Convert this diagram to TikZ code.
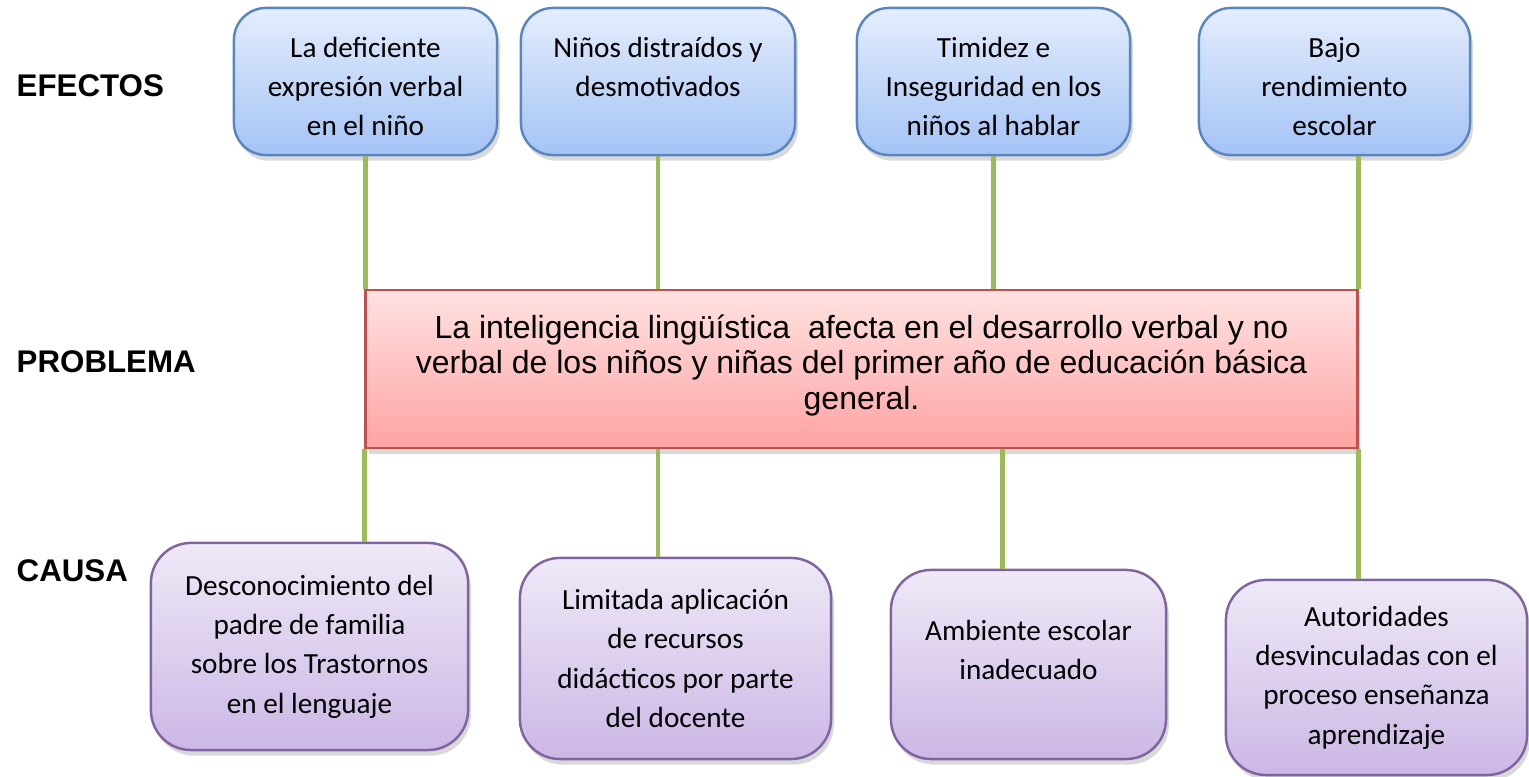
\documentclass[tikz,border=0pt]{standalone}
\usepackage{fontspec}
\setmainfont{Carlito}
\newfontfamily\arialfont{Liberation Sans}
\usetikzlibrary{shadows}

\definecolor{efTop}{HTML}{E4EDFC}
\definecolor{efBot}{HTML}{A4C3F5}
\definecolor{efLine}{HTML}{5A86BF}
\definecolor{prTop}{HTML}{FFE2E2}
\definecolor{prBot}{HTML}{FFA3A3}
\definecolor{prLine}{HTML}{C0504D}
\definecolor{caTop}{HTML}{EFE9F7}
\definecolor{caBot}{HTML}{CBB7E5}
\definecolor{caLine}{HTML}{8064A2}
\definecolor{linkGreen}{HTML}{9BBB59}

\tikzset{
  boxshadow/.style={drop shadow={shadow xshift=0.8pt,shadow yshift=-1.6pt,opacity=0.3}},
  % text placed high in the box (baseline of the last line)
  threelines/.style={text height=30.6pt,text depth=0pt},
  twolines/.style={text height=8.5pt,text depth=0pt},
  efecto/.style={draw=efLine,line width=0.7pt,rounded corners=0.32cm,
    top color=efTop,bottom color=efBot,boxshadow,threelines,
    minimum width=2.63cm,minimum height=1.47cm,inner sep=0pt,
    align=center,font=\fontsize{8.3}{11.1}\selectfont},
  causa/.style={draw=caLine,line width=0.7pt,rounded corners=0.4cm,
    top color=caTop,bottom color=caBot,boxshadow,inner sep=0pt,
    align=center,font=\fontsize{8.3}{11.2}\selectfont},
  problema/.style={draw=prLine,line width=0.7pt,
    top color=prTop,bottom color=prBot,boxshadow,
    text height=22.8pt,text depth=0pt,
    minimum width=9.91cm,minimum height=1.58cm,inner sep=0pt,
    align=center,font=\arialfont\fontsize{9.1}{10.1}\selectfont},
  rotulo/.style={anchor=west,inner sep=0pt,font=\arialfont\bfseries\fontsize{8.9}{10}\selectfont},
  link/.style={draw=linkGreen,line width=1.4pt}
}

\begin{document}
\begin{tikzpicture}[x=0.01cm,y=-0.01cm]
  \useasboundingbox (0,0) rectangle (1529,777);

  % rotulos
  \node[rotulo] (lefectos) at (16,86) {EFECTOS};
  \node[rotulo] (lproblema) at (16,362) {PROBLEMA};
  \node[rotulo] (lcausa) at (16,571) {CAUSA};

  % efectos
  \node[efecto] (e1) at (365.5,81.5) {La deficiente\\expresión verbal\\en el niño};
  \node[efecto,twolines,minimum width=2.74cm] (e2) at (658,81.5) {Niños distraídos y\\desmotivados};
  \node[efecto,minimum width=2.73cm] (e3) at (993.5,81.5) {Timidez e\\Inseguridad en los\\niños al hablar};
  \node[efecto,minimum width=2.71cm] (e4) at (1334.5,81.5) {Bajo\\rendimiento\\escolar};

  % problema
  \node[problema] (prob) at (861.5,369) {La inteligencia lingüística~ afecta en el desarrollo verbal y no\\verbal de los niños y niñas del primer año de educación básica\\general.};

  % causas
  \node[causa,minimum width=3.17cm,minimum height=2.07cm] (c1) at (309.5,646.5) {Desconocimiento del\\padre de familia\\sobre los Trastornos\\en el lenguaje};
  \node[causa,minimum width=3.11cm,minimum height=2.01cm] (c2) at (675.5,658.5) {Limitada aplicación\\de recursos\\didácticos por parte\\del docente};
  \node[causa,twolines,minimum width=2.75cm,minimum height=1.89cm] (c3) at (1028.5,664.5) {Ambiente escolar\\inadecuado};
  \node[causa,minimum width=3.01cm,minimum height=1.95cm] (c4) at (1376.5,677.5) {Autoridades\\desvinculadas con el\\proceso enseñanza\\aprendizaje};

  \begin{scope}[link]
    \draw (e1.south) -- (e1.south |- prob.north);
    \draw (e2.south) -- (e2.south |- prob.north);
    \draw (e3.south) -- (e3.south |- prob.north);
    \draw (e4.south -| prob.north east) -- (prob.north east);
    \draw (prob.south west) -- (prob.south west |- c1.north);
    \draw (prob.south -| e2.south) -- (e2.south |- c2.north);
    \draw ([xshift=0.09cm]prob.south -| e3.south) -- ([xshift=0.09cm]e3.south |- c3.north);
    \draw (prob.south east) -- (prob.south east |- c4.north);
  \end{scope}
\end{tikzpicture}
\end{document}
